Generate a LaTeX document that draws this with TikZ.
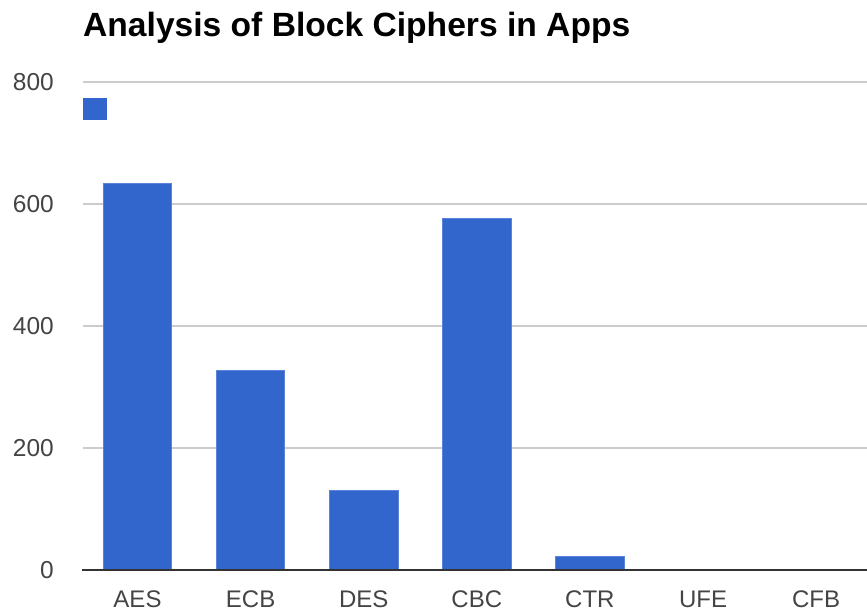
\documentclass[tikz,border=0pt]{standalone}
\usepackage{fontspec}
\setmainfont{Liberation Sans}
\definecolor{barblue}{HTML}{3366CC}
\definecolor{baredge}{HTML}{5A84D8}
\definecolor{gridgray}{HTML}{CCCCCC}
\definecolor{axisgray}{HTML}{333333}
\definecolor{labelgray}{HTML}{444444}
\tikzset{
  gridline/.style={draw=gridgray, line width=1.3pt},
  baseline/.style={draw=axisgray, line width=1.6pt},
  bar/.style={fill=barblue, draw=baredge, line width=0.8pt},
  ticklabel/.style={text=labelgray, font=\fontsize{24.5}{26}\selectfont, inner sep=0pt},
  catlabel/.style={text=labelgray, font=\fontsize{24}{26}\selectfont, inner sep=0pt, anchor=base},
  titlelabel/.style={font=\bfseries\fontsize{33.6}{36}\selectfont, inner sep=0pt, anchor=base west}
}
\begin{document}
\begin{tikzpicture}[x=1pt, y=-1pt]
  \useasboundingbox (0,0) rectangle (867,614);
  % title
  \node[titlelabel] (title) at (83,36) {Analysis of Block Ciphers in Apps};
  % horizontal gridlines and value labels (0.61 px per unit, zero at y=570)
  \foreach \v/\yy in {800/82, 600/204, 400/326, 200/448} {
    \draw[gridline] (83,\yy) -- (867,\yy);
    \node[ticklabel, anchor=east] (tick\v) at (54,\yy) {\v};
  }
  \node[ticklabel, anchor=east] (tick0) at (54,570) {0};
  % legend swatch
  \fill[barblue] (83,98) rectangle (107,120);
  % bars
  \foreach \i/\name/\val in {0/AES/633, 1/ECB/328, 2/DES/131, 3/CBC/576, 4/CTR/23, 5/UFE/0, 6/CFB/0} {
    \pgfmathsetmacro{\cx}{137.5+113.1*\i}
    \pgfmathsetmacro{\top}{570-0.61*\val}
    \ifnum\val>0
      \draw[bar] (\cx-34.2,570) rectangle (\cx+34.2,\top);
    \fi
    \node[catlabel] (lab\name) at (\cx,607) {\name};
  }
  % category axis
  \draw[baseline] (82,570) -- (867,570);
\end{tikzpicture}
\end{document}
